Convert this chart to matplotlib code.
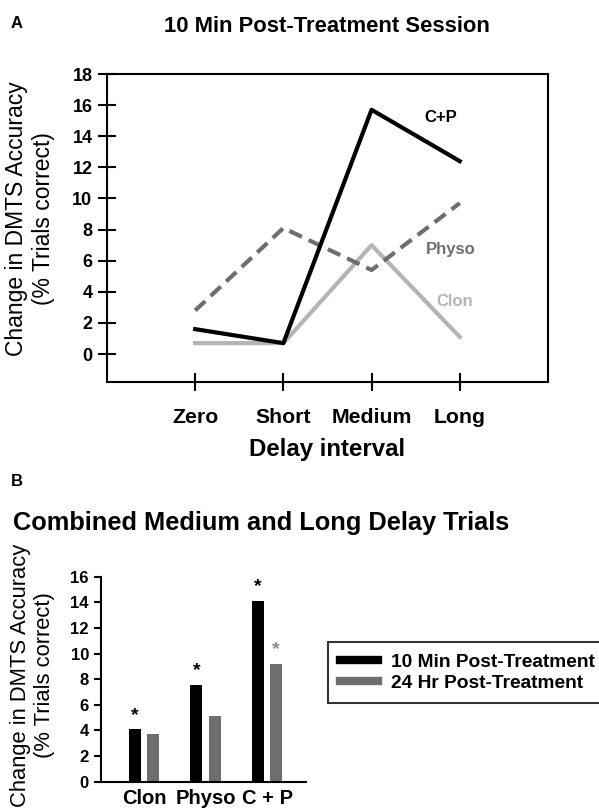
import numpy as np
import matplotlib
matplotlib.use("Agg")
import matplotlib.pyplot as plt
from matplotlib.lines import Line2D

plt.rcParams['font.family'] = ['Liberation Sans', 'DejaVu Sans']
plt.rcParams['font.weight'] = 'bold'

# panel A data
delays = ["Zero", "Short", "Medium", "Long"]
cp_vals = [1.6, 0.7, 15.7, 12.4]
physo_vals = [2.8, 8.1, 5.4, 9.7]
clon_vals = [0.7, 0.7, 7.0, 1.1]

# panel B data
groups = ["Clon", "Physo", "C + P"]
min10_vals = [4.1, 7.55, 14.1]
hr24_vals = [3.75, 5.1, 9.2]
min10_sig = [True, True, True]
hr24_sig = [False, False, True]

black = "#000000"
dark_gray = "#6e6e6e"
light_gray = "#b4b4b4"

fig = plt.figure(figsize=(5.99, 8.08), dpi=100)

# ---- panel A
ax = fig.add_axes([0.1786, 0.5272, 0.7362, 0.3812])
x = np.arange(1, len(delays) + 1)
ax.plot(x, clon_vals, color=light_gray, lw=3)
ax.plot(x, physo_vals, color=dark_gray, lw=3, dashes=(3.3, 1.8))
ax.plot(x, cp_vals, color=black, lw=3)
ax.set_xlim(0, 5)
ax.set_ylim(-1.8, 18)
ax.set_yticks(np.arange(0, 19, 2))
ax.set_xticks(x)
ax.set_xticklabels(delays, fontsize=15.3)
ax.tick_params(axis='y', labelsize=13, direction='inout', length=13, width=1.5, pad=4)
ax.tick_params(axis='x', direction='inout', length=13, width=1.5, pad=12)
for s in ax.spines.values():
    s.set_linewidth(1.5)
ax.set_xlabel("Delay interval", fontsize=17.3, fontweight='bold', labelpad=8)
ax.set_ylabel("Change in DMTS Accuracy\n(% Trials correct)", fontsize=16.5,
              fontweight='normal', multialignment='center')
ax.yaxis.set_label_coords(-0.118, 0.53)
ax.text(3.78, 15.2, "C+P", color=black, fontsize=12, ha='center', va='center')
ax.text(3.9, 6.75, "Physo", color=dark_gray, fontsize=12, ha='center', va='center')
ax.text(3.94, 3.36, "Clon", color=light_gray, fontsize=12, ha='center', va='center')

fig.text(327/599, 1 - 27/808, "10 Min Post-Treatment Session", fontsize=15.8, ha='center', va='center')
fig.text(17/599, 1 - 24/808, "A", fontsize=12, ha='center', va='center')

# ---- panel B
bx = fig.add_axes([0.1694, 0.0325, 0.3414, 0.2537])
g = np.arange(len(groups))
w = 0.195
off = 0.148
bx.bar(g - off, min10_vals, width=w, color=black, label="10 Min Post-Treatment")
bx.bar(g + off, hr24_vals, width=w, color=dark_gray, label="24 Hr Post-Treatment")
for i in range(len(groups)):
    if min10_sig[i]:
        bx.text(g[i] - off, min10_vals[i] + 1.1, "*", color=black, fontsize=14, ha='center', va='center')
    if hr24_sig[i]:
        bx.text(g[i] + off, hr24_vals[i] + 1.1, "*", color="#8a8a8a", fontsize=14, ha='center', va='center')
bx.set_xlim(-0.69, 2.63)
bx.set_ylim(0, 16)
bx.set_yticks(np.arange(0, 17, 2))
bx.set_xticks(g)
bx.set_xticklabels(groups, fontsize=14.5)
bx.tick_params(axis='x', length=0, pad=5)
bx.tick_params(axis='y', labelsize=12, direction='out', length=5, width=1.5, pad=4)
bx.spines['top'].set_visible(False)
bx.spines['right'].set_visible(False)
bx.spines['left'].set_linewidth(1.5)
bx.spines['bottom'].set_linewidth(1.5)
bx.set_ylabel("Change in DMTS Accuracy\n(% Trials correct)", fontsize=15.8,
              fontweight='normal', multialignment='center')
bx.yaxis.set_label_coords(-0.227, 0.52)

fig.text(13/599, 1 - 523/808, "Combined Medium and Long Delay Trials", fontsize=18.3,
         ha='left', va='center')
fig.text(17/599, 1 - 482/808, "B", fontsize=12, ha='center', va='center')

handles = [Line2D([], [], color=black, lw=6), Line2D([], [], color=dark_gray, lw=6)]
leg = fig.legend(handles, ["10 Min Post-Treatment", "24 Hr Post-Treatment"],
                 loc='upper left', bbox_to_anchor=(328/599, 1 - 641.7/808),
                 borderaxespad=0, fontsize=13.8, frameon=True, fancybox=False,
                 edgecolor='black', handlelength=2.0, handletextpad=0.7,
                 labelspacing=0.2, borderpad=0.6)
leg.get_frame().set_linewidth(1.5)

fig.savefig("out.png", dpi=100)
